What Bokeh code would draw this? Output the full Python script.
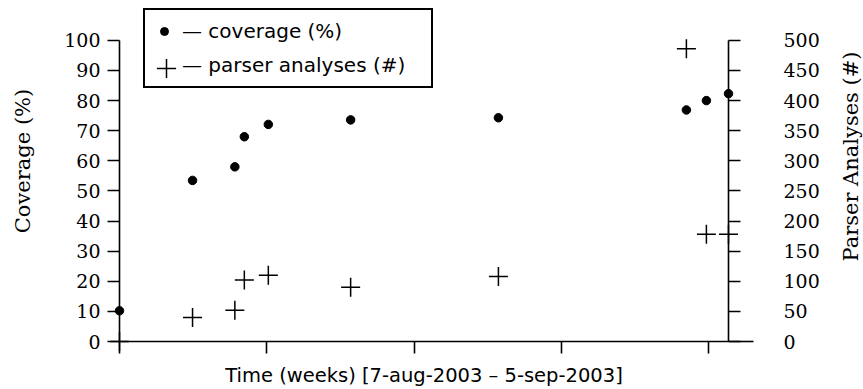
import math
from bokeh.plotting import figure
from bokeh.models import (LinearAxis, Range1d, FixedTicker, Legend, LegendItem)
from bokeh.embed import file_html
from bokeh.resources import INLINE

# ---- data (time in days since 7-aug-2003) ----
days = [0.0, 3.47, 5.48, 5.93, 7.07, 10.98, 18.0, 26.93, 27.88, 28.93]
coverage = [10.2, 53.5, 58.0, 68.0, 72.1, 73.6, 74.3, 76.9, 80.0, 82.3]
analyses = [0, 40, 52, 102, 110, 90, 108, 486, 178, 178]

week_ticks = [0, 7, 14, 21, 28]
cov_ticks = [0, 10, 20, 30, 40, 50, 60, 70, 80, 90, 100]
ana_ticks = [0, 50, 100, 150, 200, 250, 300, 350, 400, 450, 500]

x_label = "Time (weeks) [7-aug-2003 \u2013 5-sep-2003]"
y_label = "Coverage (%)"
y2_label = "Parser Analyses (#)"
legend_labels = ["\u2014 coverage (%)", "\u2014 parser analyses (#)"]

SERIF = "DejaVu Serif"
SANS = "DejaVu Sans"
PAD = "\u00a0" * 3   # shifts the rotated axis title upward a little

# frame: left 119, right 728, top 0, bottom 342 ; value 100 sits at y=40
top_extra = 40 / 302.0
p = figure(width=863, height=389, output_backend="svg", toolbar_location=None,
           x_range=Range1d(0, days[-1]),
           y_range=Range1d(0, cov_ticks[-1] * (1 + top_extra)),
           min_border_left=119, min_border_right=135, min_border_top=0, min_border_bottom=47)
p.extra_y_ranges = {"ana": Range1d(0, ana_ticks[-1] * (1 + top_extra))}
p.outline_line_color = None
p.grid.visible = False
p.background_fill_color = "white"
p.border_fill_color = "white"

def style_axis(ax):
    ax.axis_line_width = 1.6
    ax.axis_line_color = "black"
    ax.major_tick_line_width = 1.6
    ax.major_tick_line_color = "black"
    ax.major_tick_out = 12
    ax.major_tick_in = 0
    ax.minor_tick_line_color = None
    ax.major_label_text_font = SERIF
    ax.major_label_text_font_size = "19px"
    ax.major_label_text_color = "black"
    ax.axis_label_text_font = SERIF
    ax.axis_label_text_font_style = "normal"
    ax.axis_label_text_font_size = "21px"
    ax.axis_label_text_color = "black"

xa = p.xaxis[0]
style_axis(xa)
xa.ticker = FixedTicker(ticks=week_ticks)
xa.major_label_overrides = {t: "" for t in week_ticks}
xa.major_label_text_font_size = "1px"
xa.major_label_standoff = 0
xa.axis_label = x_label
xa.axis_label_text_font = SANS
xa.axis_label_text_font_size = "19.5px"
xa.axis_label_standoff = 10

ya = p.yaxis[0]
style_axis(ya)
ya.ticker = FixedTicker(ticks=cov_ticks)
ya.bounds = (cov_ticks[0], cov_ticks[-1])
ya.major_label_standoff = 7
ya.axis_label = PAD + y_label
ya.axis_label_standoff = 26

ya2 = LinearAxis(y_range_name="ana", ticker=FixedTicker(ticks=ana_ticks))
style_axis(ya2)
ya2.bounds = (ana_ticks[0], ana_ticks[-1])
ya2.major_label_text_align = "right"
ya2.major_label_standoff = 43
p.add_layout(ya2, "right")

# short continuation of the time axis past the right-hand axis
p.ray(x=[p.x_range.end], y=[cov_ticks[0]], length=25, length_units="screen", angle=0,
      line_color="black", line_width=1.6, level="overlay")

r1 = p.scatter(days, coverage, marker="circle", size=8.5, color="black", level="overlay")
r2 = p.scatter(days, analyses, marker="cross", size=19, line_color="black",
               line_width=1.5, y_range_name="ana", level="overlay")
# legend-only stand-in for the second row (its cross is drawn by a second legend)
r2_key = p.scatter([], [], marker="cross", size=0, line_color=None)

legend = Legend(items=[LegendItem(label=legend_labels[0], renderers=[r1]),
                       LegendItem(label=legend_labels[1], renderers=[r2_key])],
                location=(24, 253), orientation="vertical")
legend.label_text_font = SANS
legend.label_text_font_size = "20px"
legend.label_text_color = "black"
legend.label_height = 24
legend.glyph_height = 24
legend.glyph_width = 20
legend.label_width = 240
legend.label_standoff = 8
legend.padding = 9
legend.spacing = 10
legend.border_line_color = "black"
legend.border_line_alpha = 1
legend.border_line_width = 2
legend.background_fill_alpha = 1
legend.margin = 0
p.add_layout(legend, "center")

# second, frameless legend that only draws the large cross symbol of row 2
legend_cross = Legend(items=[LegendItem(label=" ", renderers=[r2])],
                      location=(23, 249), orientation="vertical")
legend_cross.glyph_width = 48
legend_cross.glyph_height = 48
legend_cross.label_width = 0
legend_cross.label_standoff = 0
legend_cross.label_text_font_size = "10px"
legend_cross.padding = 0
legend_cross.margin = 0
legend_cross.border_line_color = None
legend_cross.background_fill_alpha = 0
p.add_layout(legend_cross, "center")

# right-hand axis title, reading bottom to top, anchored at the frame's lower right corner
p.text(x=[p.x_range.end], y=[cov_ticks[0]], text=[y2_label], angle=math.pi / 2,
       x_offset=122, y_offset=-185, text_align="center", text_baseline="middle",
       text_font={"value": SERIF}, text_font_size={"value": "21px"}, text_color="black",
       level="overlay")

open("out.html", "w").write(file_html(p, INLINE))
